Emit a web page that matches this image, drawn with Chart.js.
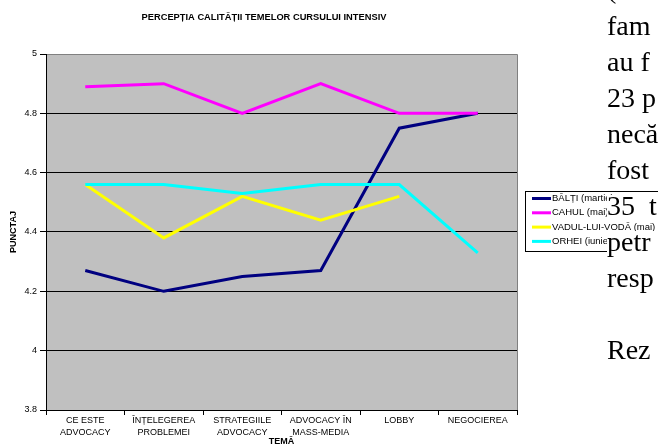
<!DOCTYPE html>
<html lang="ro">
<head>
<meta charset="utf-8">
<title>Percepția calității temelor cursului intensiv</title>
<script src="https://cdn.jsdelivr.net/npm/chart.js@4.4.1/dist/chart.umd.min.js"></script>
<style>
  html, body { margin: 0; padding: 0; background: #fff; overflow: hidden; }
  #wrap { position: relative; width: 658px; height: 446px; overflow: hidden; }
  #graficTeme { position: absolute; left: 0; top: 0; }
  .rand {
    position: absolute;
    left: 607px;
    font-family: "Liberation Serif", "Times New Roman", serif;
    font-size: 28px;
    line-height: 22px;
    white-space: nowrap;
    color: #000;
  }
  .rand span { display: inline-block; line-height: 22px; background: #fff; padding-right: 30px; }
</style>
</head>
<body>
<div id="wrap">
  <canvas id="graficTeme" width="658" height="446"></canvas>
  <!-- textul documentului din dreapta graficului -->
  <div class="rand" style="top:-22px"><span>(</span></div>
  <div class="rand" style="top:15px"><span>fam</span></div>
  <div class="rand" style="top:51px"><span>au f</span></div>
  <div class="rand" style="top:87px"><span>23 p</span></div>
  <div class="rand" style="top:123px"><span>necă</span></div>
  <div class="rand" style="top:159px"><span>fost</span></div>
  <div class="rand" style="top:195px"><span>35&nbsp;&nbsp;t</span></div>
  <div class="rand" style="top:231px"><span>petr</span></div>
  <div class="rand" style="top:267px"><span>resp</span></div>
  <div class="rand" style="top:339px"><span>Rez</span></div>
</div>

<script>
//? Date grafic : teme, serii, valori.

const teme = [
  ["CE ESTE", "ADVOCACY"],
  ["ÎNȚELEGEREA", "PROBLEMEI"],
  ["STRATEGIILE", "ADVOCACY"],
  ["ADVOCACY ÎN", "MASS-MEDIA"],
  "LOBBY",
  "NEGOCIEREA",
];

const numeSerii = ["BĂLȚI (martie)", "CAHUL (mai)", "VADUL-LUI-VODĂ (mai)", "ORHEI (iunie)"];
const culoriSerii = ["#000080", "#ff00ff", "#ffff00", "#00ffff"];

const valoriBalti = [4.27, 4.2, 4.25, 4.27, 4.75, 4.8];
const valoriCahul = [4.89, 4.9, 4.8, 4.9, 4.8, 4.8];
const valoriVadulLuiVoda = [4.56, 4.38, 4.52, 4.44, 4.52, null];
const valoriOrhei = [4.56, 4.56, 4.53, 4.56, 4.56, 4.33];

const titluGrafic = "PERCEPȚIA CALITĂȚII TEMELOR CURSULUI INTENSIV";

//? -------------------------------------------------

//? Fundal gri al zonei de desen + titlu + legenda cu chenar.

const fundalSiLegenda = {
  id: "fundalSiLegenda",
  beforeDraw(chart) {
    const { ctx, chartArea: a } = chart;
    ctx.save();
    ctx.fillStyle = "#c0c0c0";
    ctx.fillRect(a.left, a.top, a.right - a.left, a.bottom - a.top);
    ctx.strokeStyle = "#808080";
    ctx.lineWidth = 1;
    ctx.beginPath();
    ctx.moveTo(a.left, a.top + 0.5);
    ctx.lineTo(a.right + 0.5, a.top + 0.5);
    ctx.lineTo(a.right + 0.5, a.bottom);
    ctx.stroke();
    ctx.restore();
  },
  afterDraw(chart) {
    const { ctx } = chart;
    ctx.save();

    // titlu
    ctx.fillStyle = "#000";
    ctx.font = "bold 9.3px Arial, 'Liberation Sans', sans-serif";
    ctx.textAlign = "center";
    ctx.textBaseline = "middle";
    ctx.fillText(titluGrafic, 264, 17);

    // legenda
    ctx.strokeStyle = "#000";
    ctx.lineWidth = 1;
    ctx.strokeRect(525.5, 191.5, 200, 60);
    ctx.font = "9.5px Arial, 'Liberation Sans', sans-serif";
    ctx.textAlign = "left";
    chart.data.datasets.forEach((ds, i) => {
      const y = 198.5 + i * 14.3;
      ctx.strokeStyle = ds.borderColor;
      ctx.lineWidth = 3;
      ctx.beginPath();
      ctx.moveTo(532, y);
      ctx.lineTo(551, y);
      ctx.stroke();
      ctx.fillStyle = "#000";
      ctx.fillText(ds.label, 552, y);
    });
    ctx.restore();
  },
};

//? -------------------------------------------------

//? Construction du graphique.

const serii = [valoriBalti, valoriCahul, valoriVadulLuiVoda, valoriOrhei];

const data = {
  labels: teme,
  datasets: serii.map((valori, i) => ({
    label: numeSerii[i],
    data: valori,
    borderColor: culoriSerii[i],
    backgroundColor: culoriSerii[i],
    borderWidth: 3,
    pointRadius: 0,
    tension: 0,
    spanGaps: false,
    order: 4 - i,
  })),
};

const fontAxa = { family: "Arial, 'Liberation Sans', sans-serif", size: 9, lineHeight: 1.3 };

new Chart(document.getElementById("graficTeme").getContext("2d"), {
  type: "line",
  data,
  plugins: [fundalSiLegenda],
  options: {
    responsive: false,
    devicePixelRatio: 1,
    animation: false,
    layout: { padding: { top: 54, right: 141, left: 0, bottom: 0 } },
    plugins: {
      legend: { display: false },
      title: { display: false },
      tooltip: { enabled: false },
    },
    scales: {
      x: {
        offset: true,
        afterFit: (scale) => { scale.height = 36; },
        grid: {
          offset: true,
          drawOnChartArea: false,
          drawTicks: true,
          tickLength: 5,
          tickColor: "#000",
        },
        border: { color: "#000", width: 1 },
        ticks: {
          color: "#000",
          font: fontAxa,
          maxRotation: 0,
          autoSkip: false,
          padding: 0,
        },
        title: {
          display: true,
          text: "TEMĂ",
          color: "#000",
          font: { ...fontAxa, weight: "bold", lineHeight: 1.2 },
          padding: { top: 0, bottom: -1 },
        },
      },
      y: {
        min: 3.8,
        max: 5,
        afterFit: (scale) => { scale.width = 46; },
        grid: {
          color: (c) => (c.tick && c.tick.value >= 4.99 ? "#808080" : "#000"),
          tickColor: "#000",
          tickLength: 6,
        },
        border: { color: "#000", width: 1 },
        ticks: {
          stepSize: 0.2,
          color: "#000",
          font: fontAxa,
          padding: 3,
          callback: (v) => String(+v.toFixed(1)),
        },
        title: {
          display: true,
          text: "PUNCTAJ",
          color: "#000",
          font: { ...fontAxa, weight: "bold", lineHeight: 1.2 },
          padding: { top: 8, bottom: 0 },
        },
      },
    },
  },
});
</script>
</body>
</html>
